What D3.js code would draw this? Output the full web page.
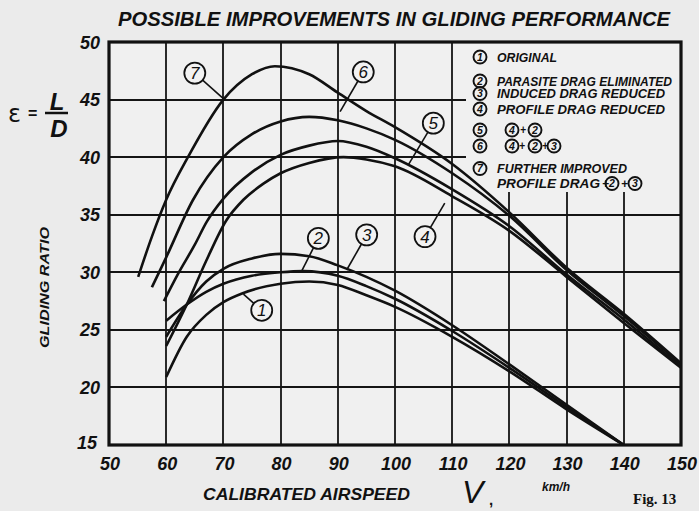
<!DOCTYPE html>
<html><head><meta charset="utf-8">
<script src="https://cdn.jsdelivr.net/npm/d3@7"></script>
<style>
html,body{margin:0;padding:0;background:#ebebeb;}
svg{display:block;}
</style></head>
<body>
<svg id="chart" width="699" height="511"></svg>
<script>
// ---------- DATA ----------
const chartTitle = "POSSIBLE IMPROVEMENTS IN GLIDING PERFORMANCE";
const xTicks = [50,60,70,80,90,100,110,120,130,140,150];
const yTicks = [15,20,25,30,35,40,45,50];

// 1 original
const v1 = [60, 63.6, 67, 70, 73.5, 80, 85, 90, 95, 100, 110, 120, 130, 140];
const r1 = [20.9, 24.4, 26.3, 27.4, 28.2, 29.0, 29.2, 28.9, 28.0, 27.0, 24.4, 21.4, 18.1, 15.0];
// 2 parasite drag eliminated
const v2 = [60, 63.6, 67, 70, 75, 80, 84, 90, 95, 100, 110, 120, 130, 140];
const r2 = [25.8, 27.2, 28.3, 29.0, 29.7, 30.0, 30.1, 29.7, 28.8, 27.7, 24.9, 21.7, 18.3, 15.0];
// 3 induced drag reduced
const v3 = [60, 63.6, 67, 70, 75, 80, 85, 90, 95, 100, 110, 120, 130, 140];
const r3 = [24.4, 27.2, 29.2, 30.3, 31.2, 31.6, 31.4, 30.6, 29.6, 28.4, 25.4, 22.0, 18.5, 15.0];
// 4 profile drag reduced
const v4 = [60, 63.6, 67, 70.5, 73.5, 77, 80, 85, 91, 95, 100, 110, 120, 130, 140, 150];
const r4 = [23.6, 27.2, 31.0, 34.5, 36.3, 37.7, 38.6, 39.5, 40.0, 39.8, 39.2, 36.6, 33.6, 29.6, 25.6, 21.7];
// 5 = 4 + 2
const v5 = [59.6, 62, 65, 67.1, 70, 75, 80, 85, 90, 95, 100, 110, 120, 130, 140, 150];
const r5 = [27.5, 29.8, 32.4, 34.4, 36.4, 38.7, 40.2, 41.0, 41.4, 40.9, 39.9, 37.2, 34.0, 29.8, 25.9, 21.8];
// 6 = 4 + 2 + 3
const v6 = [57.5, 60, 64.7, 70, 75, 80, 85, 90, 95, 100, 110, 120, 130, 140, 150];
const r6 = [28.7, 31.3, 36.3, 40.0, 42.0, 43.1, 43.5, 43.2, 42.5, 41.5, 38.6, 34.9, 30.2, 26.2, 22.0];
// 7 further improved profile drag + 2 + 3
const v7 = [55.1, 57.5, 60, 63.8, 70, 75, 79, 85, 90, 95, 100, 110, 120, 130, 140, 150];
const r7 = [29.6, 33.1, 36.3, 40.0, 45.0, 47.2, 47.9, 47.2, 45.6, 44.0, 42.6, 39.4, 35.2, 30.4, 26.4, 22.1];

const curveIds = ["1","2","3","4","5","6","7"];
// numbered callouts: circle centre and point on the curve (data units)
const calloutCircle = [[76.7,26.7],[86.6,32.95],[95.05,33.25],[105.25,33.1],[106.7,42.95],[94.45,47.4],[65.0,47.3]];
const calloutTarget = [[73.5,28.1],[83.7,30.13],[91.55,30.2],[108.7,36.0],[102.3,39.3],[90.4,43.95],[69.95,45.1]];

const legendText = ["ORIGINAL","PARASITE DRAG ELIMINATED","INDUCED DRAG REDUCED","PROFILE DRAG REDUCED"];
const legendCombo5 = ["4","2"];
const legendCombo6 = ["4","2","3"];
const legendLine7a = "FURTHER  IMPROVED";
const legendLine7b = "PROFILE DRAG";
const legendCombo7 = ["2","3"];

// ---------- DRAW ----------
const svg = d3.select("#chart");
const W = 699, H = 511;
const L = 109, R = 681, T = 42, B = 445;
const x = d3.scaleLinear().domain([50,150]).range([L,R]);
const y = d3.scaleLinear().domain([15,50]).range([B,T]);
const ink = "#111111";
const bg = "#ebebeb";
const fontHand = "'Liberation Sans', Arial, sans-serif";

svg.append("rect").attr("width",W).attr("height",H).attr("fill",bg);
svg.append("rect").attr("x",L).attr("y",T).attr("width",R-L).attr("height",B-T).attr("fill","#f0f0f0");

// legend area (no grid) boundaries
const legX0 = 466, legY1 = 192;

// grid lines from the scales
const gridV = xTicks.slice(1,-1), gridH = yTicks.slice(1,-1);
gridV.forEach(d=>{
  svg.append("line")
    .attr("x1",Math.round(x(d))).attr("x2",Math.round(x(d)))
    .attr("y1",x(d)>legX0 ? legY1 : T).attr("y2",B)
    .style("stroke","#151515").style("stroke-width","1.8px");
});
gridH.forEach(d=>{
  svg.append("line")
    .attr("y1",Math.round(y(d))).attr("y2",Math.round(y(d)))
    .attr("x1",L).attr("x2",y(d)<legY1 ? legX0 : R)
    .style("stroke","#151515").style("stroke-width","1.8px");
});

// curves
const line = d3.line().x(d=>x(d[0])).y(d=>y(d[1])).curve(d3.curveMonotoneX);
const allV = [v1,v2,v3,v4,v5,v6,v7], allR = [r1,r2,r3,r4,r5,r6,r7];
curveIds.forEach((id,i)=>{
  const pts = allV[i].map((v,k)=>[v, allR[i][k]]);
  svg.append("path").attr("d",line(pts)).attr("fill","none")
    .style("stroke",ink).style("stroke-width","2.6px").attr("stroke-linejoin","round");
});

// frame
svg.append("rect").attr("x",L).attr("y",T).attr("width",R-L).attr("height",B-T)
  .attr("fill","none").style("stroke",ink).style("stroke-width","3.2px");

// tick labels
svg.append("g").selectAll("text").data(yTicks.filter(d=>d!==15)).join("text")
  .attr("x",100).attr("y",d=>y(d)+6.5).attr("text-anchor","end")
  .attr("font-family",fontHand).attr("font-size",18).attr("font-weight","bold").attr("font-style","italic")
  .attr("fill",ink).text(d=>d);
svg.append("text").attr("x",97).attr("y",y(15)+4).attr("text-anchor","end")
  .attr("font-family",fontHand).attr("font-size",18).attr("font-weight","bold").attr("font-style","italic")
  .attr("fill",ink).text("15");
svg.append("g").selectAll("text").data(xTicks).join("text")
  .attr("x",d=>x(d)+1).attr("y",B+25).attr("text-anchor","middle")
  .attr("font-family",fontHand).attr("font-size",18).attr("font-weight","bold").attr("font-style","italic")
  .attr("fill",ink).text(d=>d);

// title
svg.append("text").attr("x",118).attr("y",26).attr("textLength",552).attr("lengthAdjust","spacingAndGlyphs")
  .attr("font-family",fontHand).attr("font-size",20).attr("font-weight","bold").attr("font-style","italic")
  .attr("fill",ink).text(chartTitle);

// y-axis label
svg.append("text").attr("x",8).attr("y",122).attr("font-family","'DejaVu Sans', sans-serif")
  .attr("font-size",24).attr("fill",ink).text("ε");
svg.append("text").attr("x",28).attr("y",119).attr("font-family",fontHand)
  .attr("font-size",16).attr("font-weight","bold").attr("fill",ink).text("=");
svg.append("text").attr("x",57).attr("y",110).attr("text-anchor","middle").attr("font-family",fontHand)
  .attr("font-size",24).attr("font-weight","bold").attr("font-style","italic").attr("fill",ink).text("L");
svg.append("line").attr("x1",45).attr("x2",68).attr("y1",113).attr("y2",113).style("stroke",ink).style("stroke-width","2.5px");
svg.append("text").attr("x",59).attr("y",137).attr("text-anchor","middle").attr("font-family",fontHand)
  .attr("font-size",24).attr("font-weight","bold").attr("font-style","italic").attr("fill",ink).text("D");
svg.append("text").attr("transform","translate(49,348) rotate(-90)")
  .attr("textLength",121).attr("lengthAdjust","spacingAndGlyphs")
  .attr("font-family",fontHand).attr("font-size",13).attr("font-weight","bold").attr("font-style","italic")
  .attr("fill",ink).text("GLIDING RATIO");

// x-axis label
svg.append("text").attr("x",203).attr("y",500).attr("textLength",207).attr("lengthAdjust","spacingAndGlyphs")
  .attr("font-family",fontHand).attr("font-size",17).attr("font-weight","bold").attr("font-style","italic")
  .attr("fill",ink).text("CALIBRATED AIRSPEED");
svg.append("text").attr("x",462).attr("y",503).attr("font-family",fontHand)
  .attr("font-size",32).attr("font-style","italic").attr("fill",ink).text("V");
svg.append("text").attr("x",489).attr("y",505).attr("font-family",fontHand)
  .attr("font-size",15).attr("font-weight","bold").attr("fill",ink).text(",");
svg.append("text").attr("x",542).attr("y",491).attr("font-family",fontHand)
  .attr("font-size",12).attr("font-weight","bold").attr("font-style","italic").attr("fill",ink).text("km/h");
svg.append("text").attr("x",633).attr("y",504).attr("font-family","'Liberation Serif', 'DejaVu Serif', serif")
  .attr("font-size",15).attr("font-weight","bold").attr("fill",ink).text("Fig. 13");

// callouts
const cr = 10.5;
curveIds.forEach((id,i)=>{
  const [cv,cy] = calloutCircle[i], [tv,ty] = calloutTarget[i];
  const cxp = x(cv), cyp = y(cy), txp = x(tv), typ = y(ty);
  const dx = txp-cxp, dy = typ-cyp, d = Math.hypot(dx,dy);
  svg.append("line").attr("x1",cxp+dx/d*cr).attr("y1",cyp+dy/d*cr).attr("x2",txp).attr("y2",typ)
    .style("stroke",ink).style("stroke-width","1.6px");
  svg.append("circle").attr("cx",cxp).attr("cy",cyp).attr("r",cr)
    .attr("fill","#f2f2f2").style("stroke",ink).style("stroke-width","1.8px");
  svg.append("text").attr("x",cxp).attr("y",cyp+6).attr("text-anchor","middle")
    .attr("font-family",fontHand).attr("font-size",17).attr("font-style","italic").attr("fill",ink).text(id);
});

// legend
function lcirc(cx, cy, t, r=6.5){
  svg.append("circle").attr("cx",cx).attr("cy",cy).attr("r",r).attr("fill","none")
    .style("stroke",ink).style("stroke-width","1.9px");
  svg.append("text").attr("x",cx).attr("y",cy+3.8).attr("text-anchor","middle")
    .attr("font-family",fontHand).attr("font-size",10.5).attr("font-weight","bold").attr("font-style","italic")
    .attr("fill",ink).text(t);
}
function ltext(tx, ty, t, len){
  svg.append("text").attr("x",tx).attr("y",ty).attr("textLength",len).attr("lengthAdjust","spacingAndGlyphs")
    .attr("font-family",fontHand).attr("font-size",12.5).attr("font-weight","bold").attr("font-style","italic")
    .attr("fill",ink).text(t);
}
const legRowY = [57, 81, 93.5, 109];
const legLen = [60, 175, 168, 168];
legendText.forEach((t,i)=>{ lcirc(480, legRowY[i], String(i+1)); ltext(497, legRowY[i]+4.5, t, legLen[i]); });
// row 5
lcirc(480,130,"5");
legendCombo5.forEach((t,k)=>{ lcirc(512+k*23,130,t); if(k<legendCombo5.length-1) ltext(520+k*23,134,"+",6); });
// row 6
lcirc(480,146,"6");
legendCombo6.forEach((t,k)=>{ const xs=[512,535,554]; lcirc(xs[k],146,t); if(k<legendCombo6.length-1) ltext(xs[k]+7,150,"+",6); });
// row 7
lcirc(480,168.5,"7");
ltext(497,173,legendLine7a,130);
ltext(497,188,legendLine7b,103);
ltext(602,188,"+",7); lcirc(612,183.5,legendCombo7[0]);
ltext(621,188,"+",7); lcirc(635,183.5,legendCombo7[1]);
</script>
</body></html>
